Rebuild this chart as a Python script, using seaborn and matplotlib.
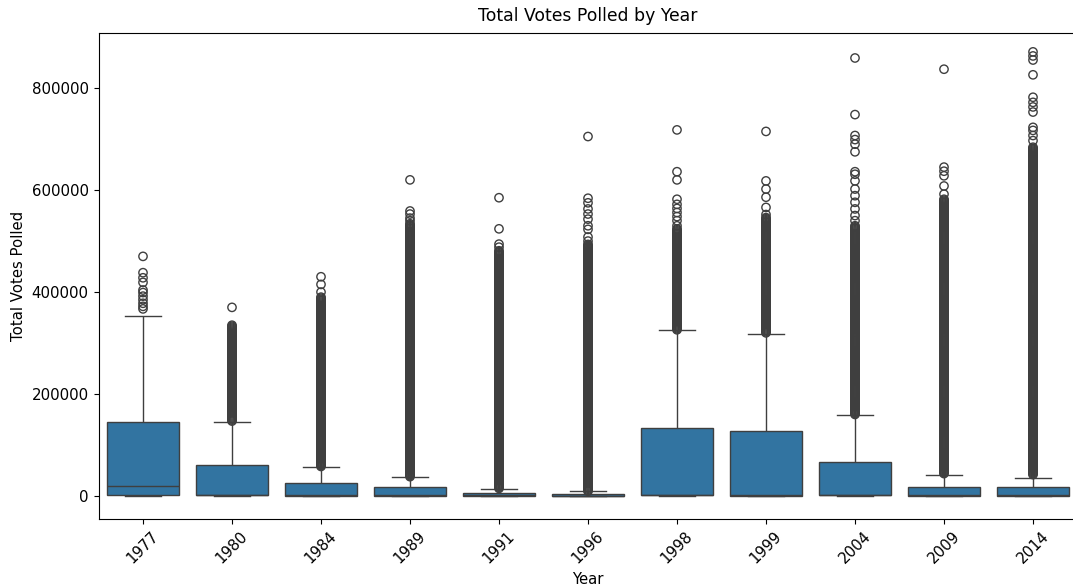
import colorsys
import numpy as np
import pandas as pd
import matplotlib
matplotlib.use("Agg")
import matplotlib.pyplot as plt
import seaborn as sns

# ---- data ----
years = ["1977", "1980", "1984", "1989", "1991", "1996", "1998", "1999", "2004", "2009", "2014"]
whisker_low = [0, 0, 0, 0, 0, 0, 0, 0, 0, 0, 0]
q1 = [3000, 1500, 1000, 1000, 500, 400, 1500, 1000, 1500, 1000, 1000]
median = [20000, 2500, 2000, 2000, 1200, 900, 2500, 2500, 2500, 2000, 2000]
q3 = [146000, 60000, 25000, 17000, 6500, 4000, 133000, 128000, 66000, 18000, 17000]
whisker_high = [354000, 146000, 57000, 37000, 14000, 9000, 325000, 318000, 158000, 42000, 35000]

sparse_outliers = {
    "1977": [470000, 438000, 428000, 419000, 404000, 399000, 392000, 385000, 378000, 372000, 367000],
    "1980": [370000],
    "1984": [430000, 415000, 400000],
    "1989": [620000, 559000, 553000, 545000, 540000],
    "1991": [585000, 524000, 494000, 488000],
    "1996": [705000, 584000, 575000, 563000, 553000, 543000, 530000, 523000, 508000, 500000],
    "1998": [718000, 636000, 620000, 582000, 572000, 564000, 556000, 548000, 540000, 530000],
    "1999": [715000, 618000, 602000, 586000, 566000, 552000],
    "2004": [859000, 748000, 707000, 699000, 690000, 675000, 636000, 631000, 618000,
             602000, 589000, 576000, 563000, 550000, 540000],
    "2009": [837000, 645000, 637000, 628000, 608000, 592000],
    "2014": [871000, 863000, 855000, 826000, 782000, 772000, 763000, 753000, 723000,
             717000, 707000, 697000],
}
# ranges covered by densely packed outlier circles (low, high)
dense_outlier_range = {
    "1977": None,
    "1980": (147000, 336000),
    "1984": (58000, 390000),
    "1989": (38000, 535000),
    "1991": (15000, 482000),
    "1996": (9500, 495000),
    "1998": (326000, 525000),
    "1999": (320000, 546000),
    "2004": (160000, 530000),
    "2009": (44000, 582000),
    "2014": (42000, 684000),
}
dense_step = 2000

title = "Total Votes Polled by Year"
xlabel = "Year"
ylabel = "Total Votes Polled"

# ---- build tables ----
box_rows = []
for i, y in enumerate(years):
    for v in (whisker_low[i], q1[i], median[i], q3[i], whisker_high[i]):
        box_rows.append((y, v))
box_df = pd.DataFrame(box_rows, columns=["Year", "Votes"])

flier_rows = []
for y in years:
    for v in sparse_outliers[y]:
        flier_rows.append((y, v))
    rng = dense_outlier_range[y]
    if rng is not None:
        for v in np.arange(rng[0], rng[1] + 1, dense_step):
            flier_rows.append((y, float(v)))
flier_df = pd.DataFrame(flier_rows, columns=["Year", "Votes"])

# ---- figure ----
plt.rcParams.update({
    "font.family": ["DejaVu Sans"],
    "xtick.labelsize": 10.8,
    "ytick.labelsize": 10.8,
    "axes.titlesize": 12.4,
    "axes.labelsize": 10.7,
})

fig = plt.figure(figsize=(10.73, 5.85), dpi=100)
ax = fig.add_axes([98.5 / 1073, 1 - 519 / 585, (1077.5 - 98.5) / 1073, (519 - 33) / 585])

base = sns.color_palette()[0]
box_color = sns.desaturate(base, 0.75)
_, light, _ = colorsys.rgb_to_hls(*box_color)
line_gray = (light * 0.6,) * 3

sns.boxplot(data=box_df, x="Year", y="Votes", order=years, color=base,
            linewidth=1.0, width=0.8, ax=ax)

n_before = len(ax.collections)
sns.stripplot(data=flier_df, x="Year", y="Votes", order=years, jitter=False,
              marker="o", size=6, linewidth=1.0, color=line_gray, ax=ax)
for coll in ax.collections[n_before:]:
    coll.set_facecolor("none")
    coll.set_edgecolor(line_gray)
    coll.set_linewidth(1.0)

ax.set_xlim(-0.5, len(years) - 0.5)
ax.set_ylim(-45000, 908000)
ax.spines["right"].set_visible(False)
ax.set_title(title, pad=8.6)
ax.set_xlabel(xlabel)
ax.set_ylabel(ylabel)
plt.setp(ax.get_xticklabels(), rotation=45)

fig.savefig("out.png", dpi=100)
